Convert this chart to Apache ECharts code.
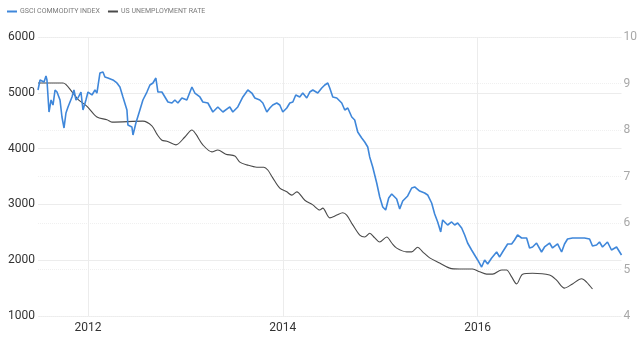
<!DOCTYPE html>
<html>
<head>
<meta charset="utf-8">
<script src="https://cdn.jsdelivr.net/npm/echarts@6/dist/echarts.min.js"></script>
<style>
  html, body { margin: 0; padding: 0; background: #fff; }
  #chart { width: 640px; height: 350px; }
</style>
</head>
<body>
<div id="chart"></div>
<script>
// Dates are decimal years.
const yearTicks = [2012, 2014, 2016];
const seriesNames = ['GSCI COMMODITY INDEX', 'US UNEMPLOYMENT RATE'];

// S&P GSCI commodity index level [year, index]
const gsci = [
  [2011.487, 5050], [2011.508, 5230], [2011.528, 5265], [2011.549, 5194], [2011.569, 5301],
  [2011.579, 5230], [2011.600, 4656], [2011.621, 4871], [2011.641, 4781], [2011.662, 5050],
  [2011.682, 5014], [2011.713, 4871], [2011.733, 4566], [2011.754, 4369], [2011.774, 4638],
  [2011.795, 4746], [2011.836, 4925], [2011.856, 5050], [2011.877, 4871], [2011.897, 4907],
  [2011.928, 5014], [2011.949, 4692], [2011.979, 4871], [2012.000, 5014], [2012.041, 4961],
  [2012.072, 5050], [2012.092, 4996], [2012.123, 5355], [2012.154, 5373], [2012.174, 5283],
  [2012.205, 5265], [2012.256, 5230], [2012.297, 5176], [2012.328, 5104], [2012.359, 4925],
  [2012.400, 4692], [2012.410, 4423], [2012.451, 4387], [2012.462, 4244], [2012.492, 4459],
  [2012.533, 4692], [2012.564, 4871], [2012.605, 5014], [2012.636, 5140], [2012.667, 5176],
  [2012.697, 5265], [2012.718, 5014], [2012.759, 5014], [2012.790, 4925], [2012.821, 4835],
  [2012.862, 4817], [2012.892, 4871], [2012.923, 4817], [2012.964, 4907], [2013.015, 4871],
  [2013.067, 5104], [2013.097, 4996], [2013.149, 4925], [2013.179, 4835], [2013.231, 4817],
  [2013.282, 4656], [2013.333, 4746], [2013.385, 4656], [2013.456, 4746], [2013.487, 4656],
  [2013.538, 4746], [2013.590, 4925], [2013.641, 5050], [2013.682, 4996], [2013.713, 4907],
  [2013.764, 4871], [2013.795, 4817], [2013.836, 4656], [2013.867, 4728], [2013.897, 4781],
  [2013.938, 4817], [2013.969, 4781], [2014.000, 4656], [2014.041, 4728], [2014.072, 4817],
  [2014.103, 4835], [2014.133, 4961], [2014.174, 4925], [2014.205, 4996], [2014.246, 4907],
  [2014.277, 5014], [2014.308, 5050], [2014.359, 4996], [2014.400, 5086], [2014.431, 5140],
  [2014.462, 5176], [2014.482, 5086], [2014.513, 4925], [2014.554, 4907], [2014.605, 4817],
  [2014.636, 4692], [2014.667, 4728], [2014.708, 4566], [2014.738, 4513], [2014.769, 4298],
  [2014.810, 4190], [2014.841, 4118], [2014.872, 4029], [2014.892, 3850], [2014.923, 3670],
  [2014.964, 3384], [2014.995, 3133], [2015.026, 2954], [2015.056, 2900], [2015.087, 3115],
  [2015.118, 3187], [2015.169, 3097], [2015.200, 2918], [2015.231, 3061], [2015.282, 3151],
  [2015.323, 3294], [2015.354, 3312], [2015.405, 3240], [2015.456, 3204], [2015.487, 3169],
  [2015.528, 3025], [2015.559, 2828], [2015.590, 2685], [2015.621, 2506], [2015.641, 2721],
  [2015.692, 2631], [2015.733, 2685], [2015.764, 2631], [2015.795, 2667], [2015.836, 2577],
  [2015.867, 2452], [2015.897, 2308], [2015.938, 2183], [2015.969, 2093], [2016.000, 2004],
  [2016.041, 1878], [2016.072, 2004], [2016.103, 1932], [2016.144, 2040], [2016.195, 2147],
  [2016.226, 2058], [2016.256, 2147], [2016.308, 2291], [2016.349, 2291], [2016.379, 2362],
  [2016.410, 2452], [2016.451, 2398], [2016.503, 2398], [2016.533, 2219], [2016.564, 2237],
  [2016.605, 2308], [2016.656, 2147], [2016.687, 2237], [2016.738, 2308], [2016.769, 2219],
  [2016.821, 2291], [2016.862, 2147], [2016.892, 2291], [2016.923, 2380], [2016.974, 2398],
  [2017.026, 2398], [2017.097, 2398], [2017.149, 2380], [2017.179, 2255], [2017.221, 2273],
  [2017.251, 2326], [2017.282, 2237], [2017.333, 2326], [2017.374, 2183], [2017.426, 2237],
  [2017.477, 2093]
];

// US unemployment rate, percent [year, rate]
const unemployment = [
  [2011.487, 9.01], [2011.744, 9.01], [2011.836, 8.82], [2011.897, 8.66], [2011.990, 8.51],
  [2012.092, 8.28], [2012.195, 8.22], [2012.246, 8.17], [2012.564, 8.19], [2012.656, 8.09],
  [2012.708, 7.91], [2012.759, 7.78], [2012.810, 7.76], [2012.903, 7.68], [2012.995, 7.85],
  [2013.067, 8.00], [2013.108, 7.91], [2013.179, 7.68], [2013.272, 7.53], [2013.333, 7.57],
  [2013.415, 7.48], [2013.508, 7.44], [2013.559, 7.31], [2013.631, 7.25], [2013.733, 7.20],
  [2013.805, 7.20], [2013.846, 7.14], [2013.897, 6.97], [2013.969, 6.75], [2014.041, 6.67],
  [2014.092, 6.60], [2014.144, 6.67], [2014.226, 6.49], [2014.308, 6.39], [2014.379, 6.28],
  [2014.410, 6.32], [2014.482, 6.11], [2014.554, 6.17], [2014.615, 6.22], [2014.656, 6.17],
  [2014.718, 5.96], [2014.790, 5.74], [2014.841, 5.70], [2014.892, 5.78], [2014.944, 5.68],
  [2014.995, 5.59], [2015.067, 5.70], [2015.118, 5.57], [2015.169, 5.46], [2015.272, 5.38],
  [2015.323, 5.38], [2015.385, 5.48], [2015.436, 5.38], [2015.508, 5.25], [2015.610, 5.14],
  [2015.713, 5.03], [2015.815, 5.01], [2015.949, 5.01], [2016.021, 4.95], [2016.092, 4.90],
  [2016.154, 4.90], [2016.246, 4.99], [2016.297, 4.99], [2016.349, 4.84], [2016.400, 4.69],
  [2016.462, 4.90], [2016.564, 4.92], [2016.738, 4.88], [2016.810, 4.77], [2016.892, 4.60],
  [2016.974, 4.69], [2017.067, 4.80], [2017.118, 4.73], [2017.179, 4.58]
];

const BLUE = '#3f87da';
const DARK = '#4a4a4a';
const FONT = 'Roboto, "Open Sans", sans-serif';

const chart = echarts.init(document.getElementById('chart'), null, { renderer: 'canvas' });

chart.setOption({
  animation: false,
  backgroundColor: '#ffffff',
  textStyle: { fontFamily: FONT },
  legend: {
    left: 2,
    top: 3,
    itemGap: 8,
    itemWidth: 10,
    itemHeight: 2,
    icon: 'rect',
    textStyle: { fontSize: 7, color: '#7a7a7a', padding: [0, 0, 0, -2] },
    data: [
      { name: seriesNames[0], itemStyle: { color: BLUE } },
      { name: seriesNames[1], itemStyle: { color: DARK } }
    ]
  },
  grid: { left: 38, right: 18, top: 37, bottom: 34 },
  xAxis: {
    type: 'value',
    min: 2011.487,
    max: 2017.477,
    axisLine: { show: false },
    axisTick: { show: false, customValues: yearTicks },
    axisLabel: {
      customValues: yearTicks,
      color: '#333',
      fontSize: 12,
      margin: 6,
      formatter: v => String(Math.round(v))
    },
    splitLine: { show: true, lineStyle: { color: '#ececec', width: 1 } }
  },
  yAxis: [
    {
      type: 'value',
      min: 1000,
      max: 6000,
      interval: 1000,
      axisLine: { show: false },
      axisTick: { show: false },
      axisLabel: { color: '#333', fontSize: 12, margin: 3, formatter: v => String(v) },
      splitLine: { lineStyle: { color: '#ececec', width: 1 } }
    },
    {
      type: 'value',
      position: 'right',
      min: 4,
      max: 10,
      interval: 1,
      axisLine: { show: false },
      axisTick: { show: false },
      axisLabel: { color: '#a8a8a8', fontSize: 12, margin: 2 },
      splitLine: { show: true, lineStyle: { color: '#f0f0f0', width: 1, type: 'dotted' } }
    }
  ],
  series: [
    {
      name: seriesNames[0],
      type: 'line',
      yAxisIndex: 0,
      data: gsci,
      showSymbol: false,
      color: BLUE,
      itemStyle: { color: BLUE },
      lineStyle: { color: BLUE, width: 1.6 },
      z: 3
    },
    {
      name: seriesNames[1],
      type: 'line',
      yAxisIndex: 1,
      data: unemployment,
      showSymbol: false,
      smooth: 0.3,
      color: DARK,
      itemStyle: { color: DARK },
      lineStyle: { color: DARK, width: 1.1 },
      z: 2
    }
  ]
});
</script>
</body>
</html>
